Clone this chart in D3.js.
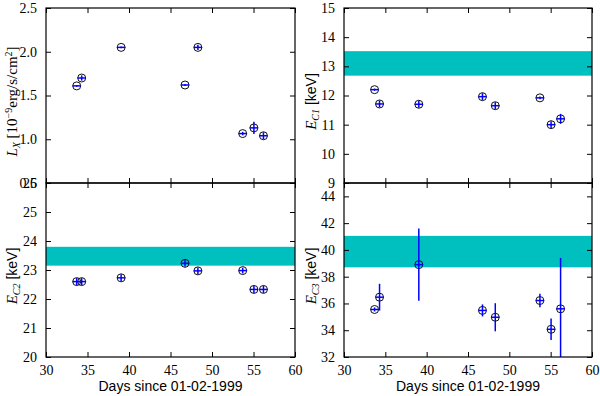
<!DOCTYPE html>
<html lang="en">
<head>
    <meta charset="UTF-8">
    <title>Cyclotron lines vs time</title>
    <style>
        body { margin: 0; background: #fff; }
        svg { display: block; }
        .tick text { font-family: "Liberation Serif", "DejaVu Serif", serif; font-size: 14px; fill: #000; }
    </style>
    <script src="https://d3js.org/d3.v7.min.js" charset="utf-8"></script>
</head>
<body>
    <script>
        // observation days (shared by all four panels)
        const days = [33.7, 34.3, 39.05, 46.75, 48.3, 53.7, 55.05, 56.2]
        const dayErr = [0.5, 0.5, 0.5, 0.5, 0.5, 0.5, 0.5, 0.5]
        const xTicks = [30, 35, 40, 45, 50, 55, 60]

        // flux
        const lx = [1.61, 1.70, 2.05, 1.62, 2.05, 1.065, 1.13, 1.04]
        const lxErr = [0.01, 0.03, 0.01, 0.01, 0.03, 0.02, 0.07, 0.04]
        const lxTicks = [0.5, 1.0, 1.5, 2.0, 2.5]

        // first harmonic
        const ec1 = [12.2, 11.71, 11.7, 11.96, 11.65, 11.92, 11.0, 11.2]
        const ec1Err = [0.04, 0.12, 0.12, 0.12, 0.12, 0.05, 0.12, 0.17]
        const ec1Band = [12.68, 13.52]
        const ec1Ticks = [9, 10, 11, 12, 13, 14, 15]

        // second harmonic
        const ec2 = [22.6, 22.6, 22.73, 23.23, 22.97, 22.98, 22.33, 22.33]
        const ec2Err = [0.12, 0.12, 0.12, 0.12, 0.12, 0.1, 0.12, 0.12]
        const ec2Band = [23.15, 23.8]
        const ec2Ticks = [20, 21, 22, 23, 24, 25, 26]

        // third harmonic
        const ec3 = [35.55, 36.47, 38.9, 35.48, 34.97, 36.22, 34.07, 35.6]
        const ec3Err = [0.15, 1.0, 2.7, 0.45, 1.05, 0.5, 0.8, 3.8]
        const ec3Band = [38.7, 41.05]
        const ec3Ticks = [32, 34, 36, 38, 40, 42, 44]

        const width = 600
        const height = 396
        const cols = [[46, 295], [344, 592]]
        const rows = [[8, 183], [183, 357]]

        const panels = [
            {col: 0, row: 0, dom: [0.5, 2.5], ticks: lxTicks, fmt: d3.format('.1f'), y: lx, err: lxErr, band: null, lab: 'lx'},
            {col: 1, row: 0, dom: [9, 15], ticks: ec1Ticks, fmt: d3.format('d'), y: ec1, err: ec1Err, band: ec1Band, lab: '1'},
            {col: 0, row: 1, dom: [20, 26], ticks: ec2Ticks, fmt: d3.format('d'), y: ec2, err: ec2Err, band: ec2Band, lab: '2'},
            {col: 1, row: 1, dom: [32, 45], ticks: ec3Ticks, fmt: d3.format('d'), y: ec3, err: ec3Err, band: ec3Band, lab: '3'}
        ]

        const svg = d3.select('body').append('svg').attr('width', width).attr('height', height)
        const serif = 'Liberation Serif, DejaVu Serif, serif'
        const sans = 'Liberation Sans, Arial, sans-serif'

        panels.forEach((p, i) => {
            const [x0, x1] = cols[p.col]
            const [y0, y1] = rows[p.row]
            const x = d3.scaleLinear().domain([30, 60]).range([x0, x1])
            const y = d3.scaleLinear().domain(p.dom).range([y1, y0])

            const clipId = 'clip' + i
            svg.append('clipPath').attr('id', clipId)
                .append('rect').attr('x', x0).attr('y', y0).attr('width', x1 - x0).attr('height', y1 - y0)

            const g = svg.append('g').attr('clip-path', `url(#${clipId})`)

            if (p.band) {
                g.append('rect')
                    .attr('x', x0).attr('width', x1 - x0)
                    .attr('y', y(p.band[1])).attr('height', y(p.band[0]) - y(p.band[1]))
                    .attr('fill', '#00bfbf')
            }

            const pts = days.map((d, k) => ({d: d, dx: dayErr[k], v: p.y[k], dv: p.err[k]}))

            g.selectAll('circle.m').data(pts).enter().append('circle')
                .attr('class', 'm')
                .attr('cx', d => x(d.d)).attr('cy', d => y(d.v)).attr('r', 4)
                .attr('fill', 'none').attr('stroke', '#111').attr('stroke-width', 1)

            g.selectAll('line.ey').data(pts).enter().append('line')
                .attr('x1', d => x(d.d)).attr('x2', d => x(d.d))
                .attr('y1', d => y(d.v - d.dv)).attr('y2', d => y(d.v + d.dv))
                .attr('stroke', '#0000ff').attr('stroke-width', 1.5)

            g.selectAll('line.ex').data(pts).enter().append('line')
                .attr('x1', d => x(d.d - d.dx)).attr('x2', d => x(d.d + d.dx))
                .attr('y1', d => y(d.v)).attr('y2', d => y(d.v))
                .attr('stroke', '#0000ff').attr('stroke-width', 1.5)

            // axes, ticks pointing inward on all four sides
            const left = d3.axisLeft(y).tickValues(p.ticks).tickFormat(p.fmt).tickSizeInner(-5).tickSizeOuter(0).tickPadding(9)
            svg.append('g').attr('transform', `translate(${x0},0)`).call(left)
            const right = d3.axisRight(y).tickValues(p.ticks).tickFormat('').tickSizeInner(-5).tickSizeOuter(0)
            svg.append('g').attr('transform', `translate(${x1},0)`).call(right)

            const bottom = d3.axisBottom(x).tickValues(xTicks).tickSizeInner(-5).tickSizeOuter(0).tickPadding(8)
            if (p.row === 0) bottom.tickFormat('')
            svg.append('g').attr('transform', `translate(0,${y1})`).call(bottom)
            const top = d3.axisTop(x).tickValues(xTicks).tickFormat('').tickSizeInner(-5).tickSizeOuter(0)
            svg.append('g').attr('transform', `translate(0,${y0})`).call(top)

            svg.selectAll('.domain').attr('stroke', 'none')
            svg.selectAll('.tick line').attr('stroke', '#000').attr('stroke-width', 1)

            svg.append('rect').attr('x', x0).attr('y', y0).attr('width', x1 - x0).attr('height', y1 - y0)
                .attr('fill', 'none').attr('stroke', '#000').attr('stroke-width', 1.2)

            // y label
            const lx0 = p.col === 0 ? 17 : 316
            const t = svg.append('text')
                .attr('transform', `translate(${lx0},${(y0 + y1) / 2 + 6}) rotate(-90)`)
                .attr('text-anchor', 'middle')
                .attr('font-size', 15)
            if (p.lab === 'lx') {
                t.append('tspan').attr('font-family', serif).attr('font-style', 'italic').text('L')
                t.append('tspan').attr('font-family', serif).attr('font-style', 'italic').attr('font-size', 10).attr('dy', 3).text('X')
                t.append('tspan').attr('font-family', serif).attr('dy', -3).text(' [10')
                t.append('tspan').attr('font-family', serif).attr('font-size', 10).attr('dy', -5).text('−9')
                t.append('tspan').attr('font-family', serif).attr('dy', 5).text('erg/s/cm')
                t.append('tspan').attr('font-family', serif).attr('font-size', 10).attr('dy', -5).text('2')
                t.append('tspan').attr('font-family', serif).attr('dy', 5).text(']')
            } else {
                t.append('tspan').attr('font-family', serif).attr('font-style', 'italic').text('E')
                t.append('tspan').attr('font-family', serif).attr('font-style', 'italic').attr('font-size', 10).attr('dy', 3).text('C' + p.lab)
                t.append('tspan').attr('font-family', sans).attr('font-size', 14).attr('dy', -3).text(' [keV]')
            }

            if (p.row === 1) {
                svg.append('text')
                    .attr('x', (x0 + x1) / 2).attr('y', 391)
                    .attr('text-anchor', 'middle')
                    .attr('font-family', sans)
                    .attr('font-size', 14)
                    .text('Days since 01-02-1999')
            }
        })
    </script>
</body>
</html>
